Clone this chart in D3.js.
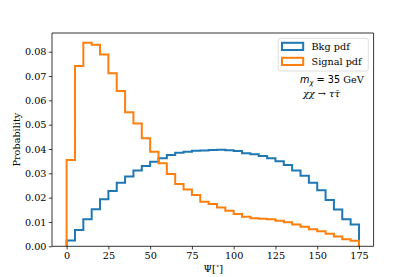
<!DOCTYPE html>
<html>
<head>
<meta charset="utf-8">
<script src="https://cdn.jsdelivr.net/npm/d3@7"></script>
<style>
  html, body { margin: 0; padding: 0; background: #fff; }
  svg { display: block; }
  text { font-family: "DejaVu Serif", serif; fill: #000; }
</style>
</head>
<body>
<svg id="chart" width="415" height="277"></svg>
<script>
// ---- data ----
const binEdges = [0,5,10,15,20,25,30,35,40,45,50,55,60,65,70,75,80,85,90,95,100,105,110,115,120,125,130,135,140,145,150,155,160,165,170,175];
const bkgPdf = [0.0024,0.0067,0.0111,0.0152,0.0193,0.0227,0.0261,0.0287,0.0312,0.0330,
                0.0348,0.0362,0.0375,0.0385,0.0389,0.0393,0.0394,0.0396,0.0397,0.0395,
                0.0392,0.0383,0.0378,0.0371,0.0362,0.0350,0.0334,0.0312,0.0290,0.0261,
                0.0230,0.0190,0.0151,0.0111,0.0090];
const signalPdf = [0.0355,0.0741,0.0837,0.0829,0.0789,0.0712,0.0639,0.0551,0.0505,0.0444,
                   0.0389,0.0341,0.0297,0.0256,0.0234,0.0211,0.0183,0.0174,0.0160,0.0146,
                   0.0133,0.0122,0.0115,0.0113,0.0111,0.0105,0.0099,0.0090,0.0080,0.0070,
                   0.0062,0.0052,0.0040,0.0029,0.0023];
const xTicks = [0,25,50,75,100,125,150,175];
const yTicks = [0,0.01,0.02,0.03,0.04,0.05,0.06,0.07,0.08];
const seriesNames = ["Bkg pdf","Signal pdf"];
const colors = ["#1f77b4","#ff7f0e"];

// ---- layout ----
const L = 52, R = 373.6, T = 33, B = 246.3;
const svg = d3.select("#chart");
const x = d3.scaleLinear().domain([-8.75, 183.75]).range([L, R]);
const y = d3.scaleLinear().domain([0, 0.0877]).range([B, T]);

// histogram outlines
function stepPoints(vals) {
  const pts = [[binEdges[0], 0]];
  vals.forEach((v, i) => pts.push([binEdges[i], v]));
  pts.push([binEdges[binEdges.length - 1], vals[vals.length - 1]]);
  pts.push([binEdges[binEdges.length - 1], 0]);
  return pts;
}
const line = d3.line().x(d => x(d[0])).y(d => y(d[1])).curve(d3.curveStepAfter);
[bkgPdf, signalPdf].forEach((vals, i) => {
  svg.append("path")
    .attr("d", line(stepPoints(vals)))
    .attr("fill", "none")
    .attr("stroke", colors[i])
    .attr("stroke-width", 2)
    .attr("stroke-linejoin", "miter");
});

// axes
const fs = 9.7;
const xAxis = d3.axisBottom(x).tickValues(xTicks).tickSize(3.2).tickPadding(2.5).tickFormat(d3.format("d"));
const yAxis = d3.axisLeft(y).tickValues(yTicks).tickSize(3.2).tickPadding(2.3).tickFormat(d3.format(".2f"));
const gx = svg.append("g").attr("transform", `translate(0,${B})`).call(xAxis);
const gy = svg.append("g").attr("transform", `translate(${L},0)`).call(yAxis);
[gx, gy].forEach(g => {
  g.select(".domain").remove();
  g.selectAll(".tick line").attr("stroke", "#000").attr("stroke-width", 0.75);
  g.selectAll(".tick text").attr("font-family", "DejaVu Serif").attr("font-size", fs).attr("fill", "#000");
});

// spines
const spines = svg.append("g").attr("stroke", "#000").attr("stroke-width", 0.8).attr("fill", "none");
spines.append("line").attr("x1", L).attr("x2", L).attr("y1", T).attr("y2", B);
spines.append("line").attr("x1", R).attr("x2", R).attr("y1", T).attr("y2", B);
spines.append("line").attr("x1", L).attr("x2", R).attr("y1", T).attr("y2", T);
spines.append("line").attr("x1", L).attr("x2", R).attr("y1", B).attr("y2", B);

// axis labels
svg.append("text")
  .attr("transform", `translate(19.5,${(T + B) / 2}) rotate(-90)`)
  .attr("text-anchor", "middle")
  .attr("font-size", fs)
  .text("Probability");

const xl = svg.append("text")
  .attr("x", (L + R) / 2 + 0.5).attr("y", 271.5)
  .attr("text-anchor", "middle")
  .attr("font-size", fs)
  .attr("font-family", "DejaVu Sans");
xl.append("tspan").text("Ψ[");
xl.append("tspan").attr("font-size", 6.8).attr("dy", -3.5).text("∘");
xl.append("tspan").attr("dy", 3.5).text("]");

// legend
const lg = svg.append("g");
lg.append("rect")
  .attr("x", 278.3).attr("y", 38.3).attr("width", 90).attr("height", 32.7)
  .attr("rx", 2).attr("ry", 2)
  .attr("fill", "#fff").attr("fill-opacity", 0.8)
  .attr("stroke", "#d6d6d6").attr("stroke-width", 0.8);
seriesNames.forEach((name, i) => {
  const yy = 42.8 + i * 15;
  lg.append("rect")
    .attr("x", 282).attr("y", yy).attr("width", 21.2).attr("height", 7.2)
    .attr("fill", "none").attr("stroke", colors[i]).attr("stroke-width", 2);
  lg.append("text")
    .attr("x", 311.5).attr("y", yy + 7)
    .attr("font-size", fs)
    .text(name);
});

// annotation
const a1 = svg.append("text").attr("x", 300).attr("y", 83.3).attr("font-size", fs);
a1.append("tspan").attr("font-family", "DejaVu Sans").attr("font-style", "italic").text("m");
a1.append("tspan").attr("font-family", "DejaVu Sans").attr("font-style", "italic").attr("font-size", 6.8).attr("dy", 2).text("χ");
a1.append("tspan").attr("font-family", "DejaVu Sans").attr("dy", -2).text(" = 35");
a1.append("tspan").text(" GeV");

const a2 = svg.append("text").attr("x", 303).attr("y", 96.7).attr("font-size", fs).attr("font-family", "DejaVu Sans");
a2.append("tspan").attr("font-style", "italic").text("χχ");
a2.append("tspan").text(" → ");
a2.append("tspan").attr("font-style", "italic").text("τ");
a2.append("tspan").attr("font-style", "italic").text("τ\u0304");
</script>
</body>
</html>
